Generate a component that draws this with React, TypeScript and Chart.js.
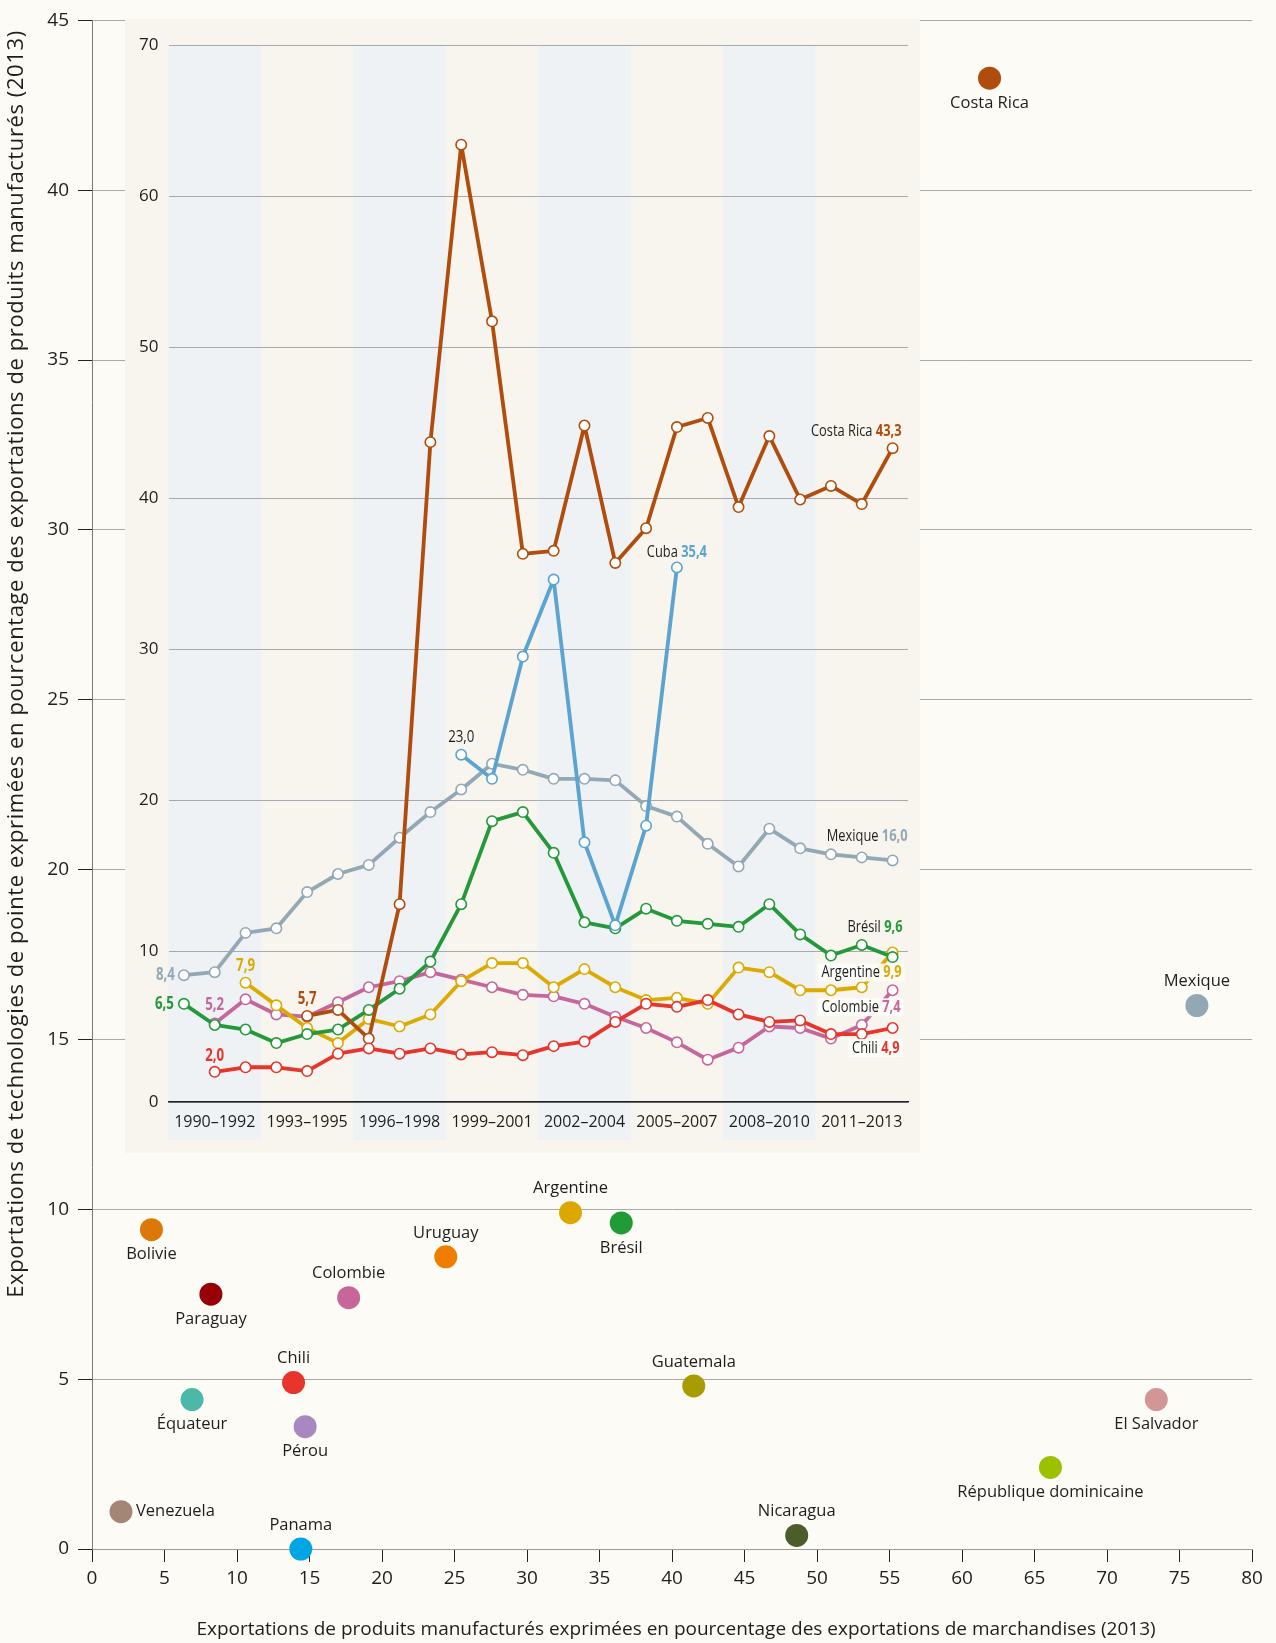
import React, { useEffect, useRef } from "react";
import { Chart, registerables } from "chart.js";

Chart.register(...registerables);

// ---------- Inset (time series) data ----------
const years = [
  "1990", "1991", "1992", "1993", "1994", "1995", "1996", "1997", "1998", "1999", "2000", "2001",
  "2002", "2003", "2004", "2005", "2006", "2007", "2008", "2009", "2010", "2011", "2012", "2013",
];
const periods = ["1990–1992", "1993–1995", "1996–1998", "1999–2001", "2002–2004", "2005–2007", "2008–2010", "2011–2013"];
const insetYTicks = [0, 10, 20, 30, 40, 50, 60, 70];

const costaRicaSeries = [null, null, null, null, 5.7, 6.1, 4.2, 13.1, 43.7, 63.4, 51.7, 36.3, 36.5, 44.8, 35.7, 38.0, 44.7, 45.3, 39.4, 44.1, 39.9, 40.8, 39.6, 43.3];
const cubaSeries = [null, null, null, null, null, null, null, null, null, 23.0, 21.4, 29.5, 34.6, 17.2, 11.7, 18.3, 35.4, null, null, null, null, null, null, null];
const mexiqueSeries = [8.4, 8.6, 11.2, 11.5, 13.9, 15.1, 15.7, 17.5, 19.2, 20.7, 22.4, 22.0, 21.4, 21.4, 21.3, 19.6, 18.9, 17.1, 15.6, 18.1, 16.8, 16.4, 16.2, 16.0];
const bresilSeries = [6.5, 5.1, 4.8, 3.9, 4.5, 4.8, 6.1, 7.5, 9.3, 13.1, 18.6, 19.2, 16.5, 11.9, 11.5, 12.8, 12.0, 11.8, 11.6, 13.1, 11.1, 9.7, 10.4, 9.6];
const argentineSeries = [null, null, 7.9, 6.4, 4.9, 3.9, 5.5, 5.0, 5.8, 8.0, 9.2, 9.2, 7.6, 8.8, 7.6, 6.75, 6.9, 6.5, 8.9, 8.6, 7.4, 7.4, 7.6, 9.9];
const colombieSeries = [null, 5.2, 6.8, 5.8, 5.65, 6.6, 7.6, 8.0, 8.6, 8.1, 7.6, 7.1, 7.0, 6.5, 5.65, 4.9, 3.95, 2.8, 3.6, 5.0, 4.9, 4.2, 5.1, 7.4];
const chiliSeries = [null, 2.0, 2.3, 2.3, 2.05, 3.2, 3.55, 3.2, 3.55, 3.15, 3.3, 3.1, 3.7, 4.0, 5.3, 6.5, 6.3, 6.75, 5.8, 5.3, 5.4, 4.5, 4.5, 4.9];

// ---------- Main scatter data (2013) ----------
const countries = [
  "Costa Rica", "Mexique", "Bolivie", "Paraguay", "Colombie", "Uruguay", "Argentine", "Brésil", "Chili",
  "Équateur", "Pérou", "Venezuela", "Panama", "Guatemala", "El Salvador", "République dominicaine", "Nicaragua",
];
const manufShare = [61.9, 76.2, 4.1, 8.2, 17.7, 24.4, 33.0, 36.5, 13.9, 6.9, 14.7, 2.0, 14.4, 41.5, 73.4, 66.1, 48.6];
const hiTechShare = [43.3, 16.0, 9.4, 7.5, 7.4, 8.6, 9.9, 9.6, 4.9, 4.4, 3.6, 1.1, 0.0, 4.8, 4.4, 2.4, 0.4];

// ---------- Styles ----------
const countryColors = [
  "#b04d0c", "#93a8b5", "#db7808", "#960006", "#c66699", "#ee7d00", "#dca800", "#1f9c36", "#e7352b",
  "#4cb8a9", "#a888c0", "#a48676", "#00a6e4", "#a89c00", "#d39696", "#9bc100", "#4b5d2a",
];
const countryLabelPos = [
  "below", "above", "below", "below", "above", "above", "above", "below", "above",
  "below", "below", "right", "above", "above", "below", "below", "above",
];

const HUMAN = '"Open Sans", "Noto Sans", "Liberation Sans", sans-serif';
const PAGE_BG = "#fcfbf6";
const PANEL_BG = "#f7f5ed";
const BAND_BG = "#eef2f5";
const CONDENSE = 0.78;

const seriesDefs = [
  { name: "Chili", data: chiliSeries, color: "#e7352b" },
  { name: "Costa Rica", data: costaRicaSeries, color: "#b04d0c" },
  { name: "Cuba", data: cubaSeries, color: "#5ba3d0" },
  { name: "Brésil", data: bresilSeries, color: "#23993a" },
  { name: "Argentine", data: argentineSeries, color: "#dcaa00" },
  { name: "Colombie", data: colombieSeries, color: "#c6679b" },
  { name: "Mexique", data: mexiqueSeries, color: "#93a8b5" },
];

// start-value labels: [series name, index, text, dx, dy, align, bold]
const startLabels: [string, number, string, number, number, string, boolean][] = [
  ["Mexique", 0, "8,4", -9, 0, "right", true],
  ["Brésil", 0, "6,5", -10, 0, "right", true],
  ["Colombie", 1, "5,2", 0, -18, "center", true],
  ["Argentine", 2, "7,9", 0, -17, "center", true],
  ["Costa Rica", 4, "5,7", 0, -17, "center", true],
  ["Chili", 1, "2,0", 0, -16, "center", true],
  ["Cuba", 9, "23,0", 0, -18, "center", false],
];
// end labels: [series name, index, value text, anchor mode, dx, dy, box]
const endLabels: [string, number, string, string, number, number, boolean][] = [
  ["Costa Rica", 23, "43,3", "right", 9, -17, false],
  ["Cuba", 16, "35,4", "center", 0, -15, false],
  ["Mexique", 23, "16,0", "right", 15, -24, false],
  ["Brésil", 23, "9,6", "right", 10, -30, false],
  ["Argentine", 23, "9,9", "right", 9, 20, true],
  ["Colombie", 23, "7,4", "right", 8, 17, true],
  ["Chili", 23, "4,9", "right", 7, 20, true],
];

function condensedText(ctx: CanvasRenderingContext2D, text: string, x: number, y: number) {
  ctx.save();
  ctx.translate(x, y);
  ctx.scale(CONDENSE, 1);
  ctx.textAlign = "left";
  ctx.fillText(text, 0, 0);
  ctx.restore();
}

export default function App() {
  const mainRef = useRef<HTMLCanvasElement>(null);
  const insetRef = useRef<HTMLCanvasElement>(null);

  useEffect(() => {
    const mainBg = {
      id: "mainBg",
      beforeDraw(chart: any) {
        const { ctx, width, height } = chart;
        ctx.save();
        ctx.fillStyle = PAGE_BG;
        ctx.fillRect(0, 0, width, height);
        ctx.restore();
      },
    };
    const mainLabels = {
      id: "mainLabels",
      afterDatasetsDraw(chart: any) {
        const { ctx } = chart;
        const xs = chart.scales.x;
        const ys = chart.scales.y;
        ctx.save();
        ctx.font = `16.5px ${HUMAN}`;
        ctx.fillStyle = "#1e1e1e";
        ctx.textBaseline = "middle";
        countries.forEach((c, i) => {
          const px = xs.getPixelForValue(manufShare[i]);
          const py = ys.getPixelForValue(hiTechShare[i]);
          const pos = countryLabelPos[i];
          if (pos === "right") {
            ctx.textAlign = "left";
            ctx.fillText(c, px + 15, py);
          } else {
            ctx.textAlign = "center";
            ctx.fillText(c, px, pos === "above" ? py - 24 : py + 25);
          }
        });
        ctx.restore();
      },
      afterDraw(chart: any) {
        const { ctx } = chart;
        ctx.save();
        ctx.fillStyle = "#1e1e1e";
        ctx.textBaseline = "middle";
        ctx.textAlign = "center";
        ctx.font = `19px ${HUMAN}`;
        ctx.fillText(
          "Exportations de produits manufacturés exprimées en pourcentage des exportations de marchandises (2013)",
          676, 1630, 960
        );
        ctx.translate(23, 664);
        ctx.rotate(-Math.PI / 2);
        ctx.textBaseline = "alphabetic";
        ctx.font = `22px ${HUMAN}`;
        (ctx as any).letterSpacing = "0.6px";
        ctx.fillText(
          "Exportations de technologies de pointe exprimées en pourcentage des exportations de produits manufacturés (2013)",
          0, 0, 1270
        );
        (ctx as any).letterSpacing = "0px";
        ctx.restore();
      },
    };

    const main = new Chart(mainRef.current!, {
      type: "scatter",
      data: {
        datasets: [
          {
            data: manufShare.map((x, i) => ({ x, y: hiTechShare[i] })),
            backgroundColor: countryColors,
            pointRadius: 11.5,
            pointHoverRadius: 11.5,
            borderWidth: 0,
            clip: false as any,
          } as any,
        ],
      },
      options: {
        responsive: false,
        animation: false,
        events: [],
        layout: { padding: { top: 19, right: 24, left: 0, bottom: 0 } },
        plugins: { legend: { display: false }, tooltip: { enabled: false } },
        scales: {
          x: {
            type: "linear",
            min: 0,
            max: 80,
            ticks: { stepSize: 5, color: "#1e1e1e", font: { family: HUMAN, size: 19 }, padding: 5 },
            grid: { drawOnChartArea: false, drawTicks: true, tickLength: 13, tickColor: "#222" },
            border: { display: true, color: "#9b9b9b", width: 1 },
            afterFit: (s: any) => { s.height = 94; },
          },
          y: {
            min: 0,
            max: 45,
            ticks: { stepSize: 5, color: "#1e1e1e", font: { family: HUMAN, size: 19 }, padding: 9 },
            grid: { color: "#a9a9a9", lineWidth: 1, tickLength: 14, tickColor: "#222" },
            border: { display: true, color: "#7a7a7a", width: 1 },
            afterFit: (s: any) => { s.width = 92; },
          },
        },
      } as any,
      plugins: [mainBg, mainLabels],
    });

    const insetBg = {
      id: "insetBg",
      beforeDraw(chart: any) {
        const { ctx, width, height } = chart;
        const xs = chart.scales.x;
        const ys = chart.scales.y;
        ctx.save();
        ctx.fillStyle = PANEL_BG;
        ctx.fillRect(0, 0, width, height);
        const step = xs.getPixelForValue(1) - xs.getPixelForValue(0);
        const top = ys.getPixelForValue(70);
        const bottom = height - 13;
        ctx.fillStyle = BAND_BG;
        periods.forEach((_, k) => {
          if (k % 2 !== 0) return;
          const x0 = xs.getPixelForValue(3 * k) - step / 2;
          const x1 = xs.getPixelForValue(3 * k + 2) + step / 2;
          ctx.fillRect(x0, top, x1 - x0, bottom - top);
        });
        ctx.restore();
      },
    };
    const insetLabels = {
      id: "insetLabels",
      afterDatasetsDraw(chart: any) {
        const { ctx } = chart;
        const xs = chart.scales.x;
        const ys = chart.scales.y;
        const byName: Record<string, any> = {};
        seriesDefs.forEach((s) => (byName[s.name] = s));
        ctx.save();
        ctx.textBaseline = "middle";
        startLabels.forEach(([name, idx, text, dx, dy, align, bold]) => {
          const s = byName[name];
          const px = xs.getPixelForValue(idx);
          const py = ys.getPixelForValue(s.data[idx]);
          ctx.font = `${bold ? "bold " : ""}17px ${HUMAN}`;
          ctx.fillStyle = bold ? s.color : "#1e1e1e";
          const w = ctx.measureText(text).width * CONDENSE;
          const x0 = align === "right" ? px + dx - w : px + dx - w / 2;
          condensedText(ctx, text, x0, py + dy);
        });
        endLabels.forEach(([name, idx, val, mode, dx, dy, box]) => {
          const s = byName[name];
          const px = xs.getPixelForValue(idx);
          const py = ys.getPixelForValue(s.data[idx]);
          ctx.font = `16.5px ${HUMAN}`;
          const wName = ctx.measureText(name + " ").width * CONDENSE;
          ctx.font = `bold 16.5px ${HUMAN}`;
          const wVal = ctx.measureText(val).width * CONDENSE;
          const total = wName + wVal;
          const x0 = mode === "right" ? px + dx - total : px + dx - total / 2;
          const y = py + dy;
          if (box) {
            ctx.fillStyle = "rgba(252,252,249,0.92)";
            ctx.fillRect(x0 - 4, y - 9, total + 7, 18);
          }
          ctx.font = `16.5px ${HUMAN}`;
          ctx.fillStyle = "#1e1e1e";
          condensedText(ctx, name + " ", x0, y);
          ctx.font = `bold 16.5px ${HUMAN}`;
          ctx.fillStyle = s.color;
          condensedText(ctx, val, x0 + wName, y);
        });
        ctx.restore();
      },
    };

    const inset = new Chart(insetRef.current!, {
      type: "line",
      data: {
        labels: years,
        datasets: seriesDefs.map((s) => ({
          label: s.name,
          data: s.data,
          borderColor: s.color,
          borderWidth: 3.8,
          borderJoinStyle: "round",
          pointRadius: 5.2,
          pointHoverRadius: 5.2,
          pointBackgroundColor: "#ffffff",
          pointBorderColor: s.color,
          pointBorderWidth: 1.6,
          tension: 0,
          spanGaps: false,
          clip: false as any,
        })) as any,
      },
      options: {
        responsive: false,
        animation: false,
        events: [],
        layout: { padding: { top: 26, right: 12, left: 0, bottom: 0 } },
        plugins: { legend: { display: false }, tooltip: { enabled: false } },
        scales: {
          x: {
            offset: true,
            ticks: {
              autoSkip: false,
              maxRotation: 0,
              minRotation: 0,
              color: "#1e1e1e",
              font: { family: HUMAN, size: 16 },
              padding: 11,
              callback: (_v: any, i: number) => (i % 3 === 1 ? periods[(i - 1) / 3] : ""),
            },
            grid: { drawOnChartArea: false, drawTicks: false },
            border: { display: true, color: "#222", width: 1.5 },
            afterFit: (s: any) => { s.height = 51; },
          },
          y: {
            min: 0,
            max: 70,
            afterBuildTicks: (s: any) => { s.ticks = insetYTicks.map((v) => ({ value: v })); },
            ticks: { color: "#1e1e1e", font: { family: HUMAN, size: 17 }, padding: 10 },
            grid: { color: "#a6a9ae", lineWidth: 1, drawTicks: false },
            border: { display: false },
            afterFit: (s: any) => { s.width = 43.5; },
          },
        },
      } as any,
      plugins: [insetBg, insetLabels],
    });

    return () => {
      main.destroy();
      inset.destroy();
    };
  }, []);

  return (
    <div style={{ position: "absolute", left: 0, top: 0, width: 1276, height: 1643, background: PAGE_BG, overflow: "hidden" }}>
      <canvas ref={mainRef} width={1276} height={1643} style={{ position: "absolute", left: 0, top: 0 }} />
      <canvas ref={insetRef} width={795} height={1134} style={{ position: "absolute", left: 125, top: 19 }} />
    </div>
  );
}
